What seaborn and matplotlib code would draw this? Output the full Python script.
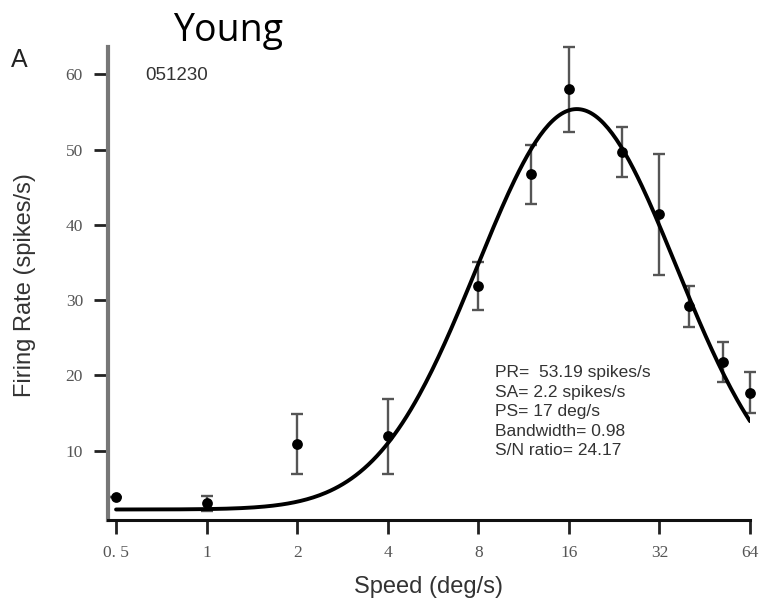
import numpy as np
import pandas as pd
import matplotlib
matplotlib.use("Agg")
import matplotlib.pyplot as plt
import seaborn as sns


# Data
speed = [0.5, 1, 2, 4, 8, 12, 16, 24, 32, 40, 52, 64]
rate = [3.9, 3.0, 10.9, 11.9, 31.9, 46.7, 58.0, 49.7, 41.4, 29.2, 21.8, 17.7]
sem = [0.0, 1.0, 4.0, 5.0, 3.2, 3.9, 5.7, 3.3, 8.0, 2.7, 2.7, 2.7]

# Fit parameters (log-Gaussian tuning curve)
PR = 53.19
SA = 2.2
PS = 17
SIGMA_OCT = 1.1

xticks = [0.5, 1, 2, 4, 8, 16, 32, 64]
xticklabels = ["0. 5", "1", "2", "4", "8", "16", "32", "64"]
yticks = [10, 20, 30, 40, 50, 60]

fit_lines = [
    "PR=  53.19 spikes/s",
    "SA= 2.2 spikes/s",
    "PS= 17 deg/s",
    "Bandwidth= 0.98",
    "S/N ratio= 24.17",
]


def tuning_curve(v):
    return SA + PR * np.exp(-np.log2(v / PS) ** 2 / (2 * SIGMA_OCT ** 2))


def main():
    sns.set_style("ticks")
    plt.rcParams["font.family"] = ["Liberation Sans", "DejaVu Sans"]

    fig = plt.figure(figsize=(7.63, 6.03), dpi=100)
    ax = fig.add_axes([0.1415, 0.1376, 0.8415, 0.784])

    xs = np.logspace(np.log2(0.5), np.log2(64), 300, base=2)
    curve = pd.DataFrame({"speed": xs, "rate": tuning_curve(xs)})
    pts = pd.DataFrame({"speed": speed, "rate": rate, "sem": sem})

    eb = ax.errorbar(pts["speed"], pts["rate"], yerr=pts["sem"], fmt="none",
                     ecolor="#555555", elinewidth=1.7, capsize=4.5,
                     capthick=1.7, zorder=2)
    for art in eb.lines[1] + eb.lines[2]:
        art.set_clip_on(False)
    sns.lineplot(data=curve, x="speed", y="rate", color="black",
                 linewidth=2.8, ax=ax, zorder=3)
    sns.scatterplot(data=pts, x="speed", y="rate", color="black", s=60,
                    edgecolor="black", linewidth=0, ax=ax, zorder=4,
                    clip_on=False)

    ax.set_xscale("log", base=2)
    ax.set_xlim(0.47, 64)
    ax.set_ylim(0.8, 63.6)
    ax.set_xticks(xticks)
    ax.set_xticklabels(xticklabels)
    ax.minorticks_off()
    ax.set_yticks(yticks)

    for lab in ax.get_xticklabels() + ax.get_yticklabels():
        lab.set_family("Liberation Serif")
        lab.set_color("#555555")
        lab.set_fontsize(12.5)

    ax.tick_params(axis="both", direction="out", length=10, width=2,
                   color="#222222", pad=8)

    for side in ["top", "right"]:
        ax.spines[side].set_visible(False)
    ax.spines["left"].set_color("#777777")
    ax.spines["left"].set_linewidth(3)
    ax.spines["bottom"].set_color("#111111")
    ax.spines["bottom"].set_linewidth(2.2)

    ax.set_xlabel("Speed (deg/s)", fontsize=17, color="#333333")
    ax.set_ylabel("Firing Rate (spikes/s)", fontsize=17, color="#333333")
    ax.xaxis.set_label_coords(0.5, -0.118)
    ax.yaxis.set_label_coords(-0.112, 0.497)

    ax.text(0.058, 0.94, "051230", transform=ax.transAxes, fontsize=13.5,
            color="#333333", va="center", ha="left")

    for i, line in enumerate(fit_lines):
        fig.text(495 / 763, 1 - (373 + i * 19.4) / 603, line, fontsize=12.5,
                 color="#333333", va="center", ha="left")

    fig.text(11 / 763, 1 - 60 / 603, "A", fontsize=18, color="#222222",
             va="center", ha="left")
    fig.text(228 / 763, 1 - 31 / 603, "Young", fontsize=27,
             family=["Open Sans", "DejaVu Sans"], color="black",
             va="center", ha="center")

    fig.savefig("out.png", dpi=100)


if __name__ == "__main__":
    main()
